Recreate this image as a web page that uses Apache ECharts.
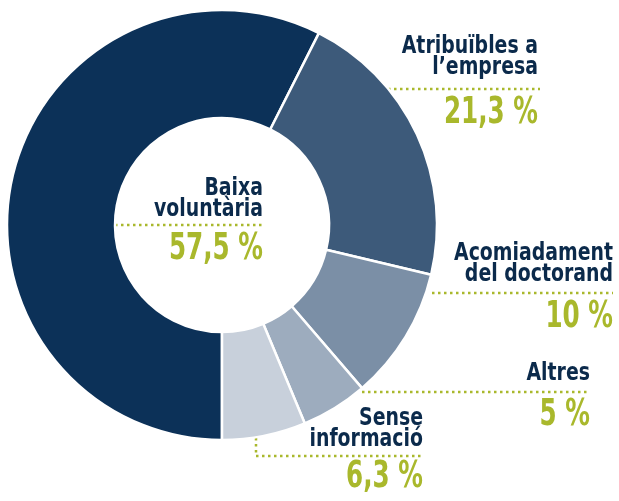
<!DOCTYPE html>
<html>
<head>
<meta charset="utf-8">
<script src="https://cdn.jsdelivr.net/npm/echarts@6/dist/echarts.min.js"></script>
<style>
html,body{margin:0;padding:0;background:#fff;}
#c{width:619px;height:501px;}
</style>
</head>
<body>
<div id="c"></div>
<script>
// ---- data ----
const categories = ['Baixa voluntària', 'Atribuïbles a l’empresa', 'Acomiadament del doctorand', 'Altres', 'Sense informació'];
const nameLines = [['Baixa', 'voluntària'], ['Atribuïbles a', 'l’empresa'], ['Acomiadament', 'del doctorand'], ['Altres'], ['Sense', 'informació']];
const values = [57.5, 21.3, 10, 5, 6.3];
const percentLabels = values.map(v => String(v).replace('.', ',') + ' %');

// ---- style ----
const colors = ['#0c3158', '#3d5a7a', '#7b8fa6', '#9dacbe', '#c8d0db'];
const navy = '#0b2a4b';
const green = '#a9b82c';
const nameFont = '"DejaVu Sans Condensed", "DejaVu Sans", sans-serif';
const nameSize = 25, pctSize = 37, lineGap = 21;
const nameScale = 0.84, pctScale = 0.74;

// label layout: right edge x, first-line baseline, percent baseline, dotted path
const layout = [
  { x: 263, y: 197, py: 262, path: [[115, 225], [263, 225]] },
  { x: 538, y: 55, py: 126, path: [[388, 89], [540, 89]] },
  { x: 613, y: 262, py: 330, path: [[432, 293], [613, 293]] },
  { x: 590, y: 382, py: 428, path: [[362, 392], [590, 392]] },
  { x: 423, y: 427, py: 490, path: [[256, 438], [256, 456], [423, 456]] }
];

const graphics = [];
layout.forEach((L, i) => {
  graphics.push({
    type: 'polyline', silent: true,
    shape: { points: L.path },
    style: { stroke: green, lineWidth: 2.5, lineDash: [2.5, 3.5], fill: null }
  });
  nameLines[i].forEach((t, j) => {
    graphics.push({
      type: 'text', silent: true,
      x: L.x, y: L.y + j * lineGap - 0.35 * nameSize, scaleX: nameScale,
      style: { text: t, fill: navy, font: 'bold ' + nameSize + 'px ' + nameFont, align: 'right', verticalAlign: 'middle' }
    });
  });
  graphics.push({
    type: 'text', silent: true,
    x: L.x, y: L.py - 0.35 * pctSize, scaleX: pctScale,
    style: { text: percentLabels[i], fill: green, font: 'bold ' + pctSize + 'px ' + nameFont, align: 'right', verticalAlign: 'middle' }
  });
});

const chart = echarts.init(document.getElementById('c'), null, { renderer: 'canvas' });
chart.setOption({
  animation: false,
  color: colors,
  series: [{
    type: 'pie',
    center: [222, 225],
    radius: [107, 215],
    startAngle: 270,
    clockwise: true,
    silent: true,
    label: { show: false },
    labelLine: { show: false },
    itemStyle: { borderColor: '#fff', borderWidth: 2.5 },
    data: categories.map((c, i) => ({ name: c, value: values[i] }))
  }],
  graphic: graphics
});
</script>
</body>
</html>
